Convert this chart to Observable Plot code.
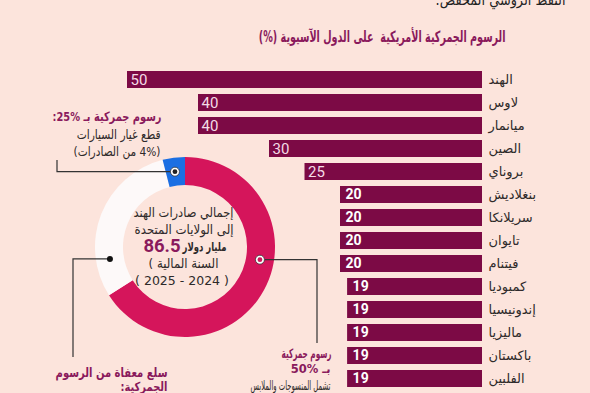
<!DOCTYPE html>
<html><head><meta charset="utf-8">
<script src="https://cdn.jsdelivr.net/npm/d3@7"></script>
<script src="https://cdn.jsdelivr.net/npm/@observablehq/plot@0.6"></script>
<style>
html,body{margin:0;padding:0;background:#fce4dc;overflow:hidden;}
</style></head><body><div id="chart"></div>
<script>
// ---- data ----
const countries = ["الهند","لاوس","ميانمار","الصين","بروناي","بنغلاديش","سريلانكا","تايوان","فيتنام","كمبوديا","إندونيسيا","ماليزيا","باكستان","الفلبين"];
const tariffs = [50,40,40,30,25,20,20,20,20,19,19,19,19,19];
const shareNames = ["رسوم 50%","معفاة","رسوم 25%"];
const shareValues = [66,30,4];
const shareColors = ["#d5155b","#fdf9f9","#1b6fe3"];
const titleText = "الرسوم الجمركية الأمريكية  على الدول الآسيوية (%)";
const topText = "النفط الروسي المخفض.";
const centerLines = ["إجمالي صادرات الهند","إلى الولايات المتحدة"];
const totalValue = "86.5";
const totalUnit = "مليار دولار";
const yearLines = ["( السنة المالية","( 2025 - 2024 )"];
const noteAuto = ["رسوم جمركية بـ %25:","قطع غيار السيارات","(4% من الصادرات)"];
const noteHigh = ["رسوم جمركية","بـ %50","تشمل المنسوجات والملابس"];
const noteFree = ["سلع معفاة من الرسوم","الجمركية:"];

// ---- styling constants ----
const BG = "#fce4dc", BAR = "#7c0a45", MAROON = "#8a1a5c", DARK = "#2e2a2a";
const AR = "DejaVu Sans", NUM = "Roboto";
const rtl = s => "\u200F" + s + "\u200F";
const ltr = s => "\u200E" + s + "\u200E";

const rows = countries.map((c, i) => ({country: c, value: tariffs[i]}));
const bigRows = rows.filter(d => d.value >= 25);
const smallRows = rows.filter(d => d.value < 25);

// donut geometry
const CX = 185, CY = 247, R0 = 62, R1 = 90;
const pieData = d3.pie().sort(null).value(d => d)(shareValues);

function donut() {
  return () => {
    const g = d3.create("svg:g").attr("transform", `translate(${CX},${CY})`);
    const arc = d3.arc().innerRadius(R0).outerRadius(R1);
    g.selectAll("path").data(pieData).join("path")
      .attr("d", arc).attr("fill", (d, i) => shareColors[i]);
    return g.node();
  };
}

// callouts: anchor angle on ring (deg, clockwise from top) then elbow path
function callouts() {
  return () => {
    const g = d3.create("svg:g");
    const pt = (deg, r = 76) => [CX + r * Math.sin(deg * Math.PI / 180), CY - r * Math.cos(deg * Math.PI / 180)];
    const defs = [
      {p: pt(-7.6), pts: p => [p, [57, p[1]], [57, 160]], dot: "ring", c: "#222"},
      {p: pt(99.6), pts: p => [p, [317, p[1]], [317, 343]], dot: "ring", c: shareColors[0]},
      {p: pt(261), pts: p => [p, [73, p[1]], [73, 357]], dot: "solid", c: "#111"}
    ];
    for (const d of defs) {
      g.append("path").attr("d", d3.line()(d.pts(d.p))).attr("fill", "none").attr("stroke", "#333").attr("stroke-width", 1.2);
      if (d.dot === "ring") {
        g.append("circle").attr("cx", d.p[0]).attr("cy", d.p[1]).attr("r", 4.5).attr("fill", "#fff").attr("stroke", "#333").attr("stroke-width", 0.8);
        g.append("circle").attr("cx", d.p[0]).attr("cy", d.p[1]).attr("r", 2.4).attr("fill", d.c);
      } else {
        g.append("circle").attr("cx", d.p[0]).attr("cy", d.p[1]).attr("r", 3).attr("fill", d.c);
      }
    }
    return g.node();
  };
}

// one text mark per line, at a fixed frame position; optional fitted width
const line = (s, x, y, w, o = {}) => Plot.text([s], {
  text: d => d, frameAnchor: "top-left", dx: x, dy: y, lineAnchor: "middle",
  textAnchor: "end", fontFamily: AR, fontSize: 13, fill: DARK,
  className: w ? "fitw" + w : undefined, ...o
});

const chart = Plot.plot({
  width: 590, height: 393, margin: 0,
  style: {background: BG, fontFamily: AR, overflow: "hidden"},
  x: {domain: [0, 50], range: [482, 127], axis: null},
  y: {domain: countries, range: [62.4, 395.8], padding: 0.25, axis: null},
  marks: [
    Plot.barX(rows, {x: "value", y: "country", fill: BAR}),
    Plot.text(bigRows, {x: "value", y: "country", text: d => String(d.value), textAnchor: "start", dx: 3, fill: "#f4dbe6", fontFamily: NUM, fontSize: 15, fontWeight: 400}),
    Plot.text(smallRows, {x: "value", y: "country", text: d => String(d.value), textAnchor: "start", dx: 5, fill: "#ffffff", fontFamily: NUM, fontSize: 14, fontWeight: 700}),
    Plot.text(rows, {x: 0, y: "country", text: "country", textAnchor: "start", dx: 6, fill: DARK, fontFamily: AR, fontSize: 13}),
    donut(),
    callouts(),
    // titles
    line(rtl(topText), 565, 0, 130, {fontSize: 15, fill: "#222"}),
    line(rtl(titleText), 505, 37, 247, {fontSize: 15.5, fontWeight: 700, fill: MAROON}),
    // donut centre
    line(rtl(centerLines[0]), 233, 212, 100, {fontSize: 13}),
    line(rtl(centerLines[1]), 233, 229, 99, {fontSize: 13}),
    line(totalValue, 161.5, 246, 0, {textAnchor: "middle", fontFamily: NUM, fontSize: 18.5, fontWeight: 700, fill: MAROON}),
    line(totalUnit, 204, 246.5, 44, {textAnchor: "middle", fontSize: 12.5, fontWeight: 700}),
    line(ltr(yearLines[0]), 183, 263, 70, {textAnchor: "middle", fontSize: 13}),
    line(ltr(yearLines[1]), 181.5, 280, 0, {textAnchor: "middle", fontSize: 12.5}),
    // callout notes
    line(rtl(noteAuto[0]), 161, 116, 109, {fill: MAROON, fontWeight: 700}),
    line(rtl(noteAuto[1]), 160, 134, 84),
    line(rtl(noteAuto[2]), 160, 151, 87),
    line(rtl(noteHigh[0]), 331, 353, 50, {fill: MAROON, fontWeight: 700}),
    line(ltr(noteHigh[1]), 330, 369, 0, {fill: MAROON, fontWeight: 700, fontSize: 11.5}),
    line(rtl(noteHigh[2]), 330, 385, 80),
    line(rtl(noteFree[0]), 167, 372, 112, {fill: MAROON, fontWeight: 700}),
    line(rtl(noteFree[1]), 167, 386.5, 47, {fill: MAROON, fontWeight: 700, fontSize: 12.5})
  ]
});
document.getElementById("chart").appendChild(chart);
// condense fixed-width annotation lines (horizontal scale about their anchor) to the reference widths
d3.select(chart).selectAll("g[class*='fitw']").each(function () {
  const m = this.getAttribute("class").match(/fitw(\d+)/);
  if (!m) return;
  d3.select(this).selectAll("text").each(function () {
    const natural = this.getComputedTextLength();
    if (!natural) return;
    const sx = Math.min(1.15, +m[1] / natural);
    const prev = this.getAttribute("transform") || "";
    this.setAttribute("transform", (prev + ` scale(${sx.toFixed(4)},1)`).trim());
  });
});
</script></body></html>
